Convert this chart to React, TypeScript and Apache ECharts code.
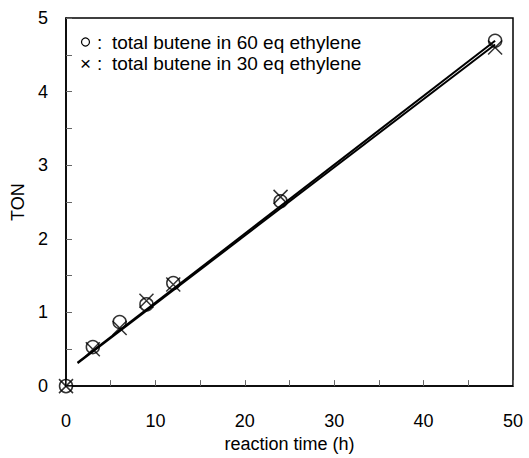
import React, { useEffect, useRef } from "react";
import * as echarts from "echarts";

const timesH = [0, 3, 6, 9, 12, 24, 48];
const ton60eq = [0, 0.53, 0.87, 1.11, 1.4, 2.51, 4.69];
const ton30eq = [0, 0.5, 0.79, 1.16, 1.38, 2.57, 4.6];
const fit60X = [1.3, 48];
const fit60Y = [0.32, 4.69];
const fit30X = [1.3, 48];
const fit30Y = [0.31, 4.64];
const legendColon = ":";
const legend60 = "total butene in 60 eq ethylene";
const legend30 = "total butene in 30 eq ethylene";
const xName = "reaction time (h)";
const yName = "TON";

const FONT = "'Liberation Sans', Arial, sans-serif";

export default function App() {
  const ref = useRef<HTMLDivElement>(null);
  useEffect(() => {
    if (!ref.current) return;
    const chart = echarts.init(ref.current, undefined, { renderer: "svg" });
    const pts60 = timesH.map((t, i) => [t, ton60eq[i]]);
    const pts30 = timesH.map((t, i) => [t, ton30eq[i]]);
    const line60 = fit60X.map((x, i) => [x, fit60Y[i]]);
    const line30 = fit30X.map((x, i) => [x, fit30Y[i]]);
    const legStyle = { fontSize: 19, fontFamily: FONT, fill: "#000", verticalAlign: "middle" };
    chart.setOption({
      animation: false,
      backgroundColor: "#fff",
      textStyle: { fontFamily: FONT, color: "#000" },
      grid: {
        left: 66,
        top: 18,
        right: 16,
        bottom: 69,
        show: true,
        borderColor: "#000",
        borderWidth: 1.5,
      },
      xAxis: {
        type: "value",
        min: 0,
        max: 50,
        interval: 5,
        name: xName,
        nameLocation: "middle",
        nameGap: 42,
        nameTextStyle: { fontSize: 18, color: "#000", fontFamily: FONT },
        axisLine: { show: true, lineStyle: { color: "#000", width: 1.5 } },
        axisTick: { show: true, inside: true, length: 6, lineStyle: { color: "#666", width: 1 } },
        axisLabel: {
          fontSize: 18,
          color: "#000",
          margin: 26,
          fontFamily: FONT,
          formatter: (v: number) => (v % 10 === 0 ? String(v) : ""),
        },
        splitLine: { show: false },
      },
      yAxis: {
        type: "value",
        min: 0,
        max: 5,
        interval: 0.5,
        name: yName,
        nameLocation: "middle",
        nameGap: 38,
        nameTextStyle: { fontSize: 18, color: "#000", fontFamily: FONT },
        axisLine: { show: true, lineStyle: { color: "#000", width: 1.5 } },
        axisTick: { show: true, inside: true, length: 6, lineStyle: { color: "#666", width: 1 } },
        axisLabel: {
          fontSize: 18,
          color: "#000",
          margin: 18,
          padding: [6, 0, 0, 0],
          fontFamily: FONT,
          formatter: (v: number) => (Math.abs(v - Math.round(v)) < 1e-9 ? String(Math.round(v)) : ""),
        },
        splitLine: { show: false },
      },
      series: [
        {
          type: "line",
          data: line60,
          symbol: "none",
          lineStyle: { color: "#000", width: 2 },
          z: 2,
        },
        {
          type: "line",
          data: line30,
          symbol: "none",
          lineStyle: { color: "#000", width: 2 },
          z: 2,
        },
        {
          type: "scatter",
          data: pts60,
          symbol: "circle",
          symbolSize: 13,
          itemStyle: { color: "transparent", borderColor: "#000", borderWidth: 1.5 },
          z: 3,
        },
        {
          type: "scatter",
          data: pts30,
          symbol: "path://M0,0L10,10M10,0L0,10",
          symbolSize: 14,
          itemStyle: { color: "transparent", borderColor: "#000", borderWidth: 1.5 },
          z: 3,
        },
      ],
      graphic: [
        {
          type: "circle",
          shape: { cx: 85.5, cy: 42, r: 4 },
          style: { fill: "none", stroke: "#000", lineWidth: 1.2 },
        },
        { type: "text", x: 97, y: 42, style: { ...legStyle, text: legendColon } },
        { type: "text", x: 112, y: 42, style: { ...legStyle, text: legend60 } },
        { type: "text", x: 80, y: 63, style: { ...legStyle, text: "×" } },
        { type: "text", x: 97, y: 63, style: { ...legStyle, text: legendColon } },
        { type: "text", x: 112, y: 63, style: { ...legStyle, text: legend30 } },
      ],
    });
    return () => chart.dispose();
  }, []);
  return <div ref={ref} style={{ width: 529, height: 458, position: "absolute", left: 0, top: 0 }} />;
}
